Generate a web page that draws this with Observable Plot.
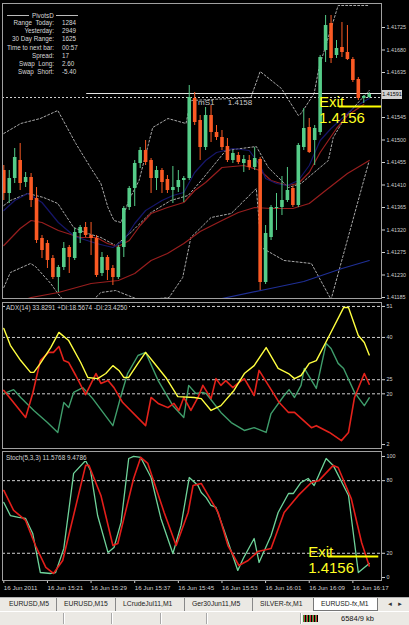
<!DOCTYPE html>
<html><head><meta charset="utf-8">
<script src="https://cdn.jsdelivr.net/npm/d3@7"></script>
<script src="https://cdn.jsdelivr.net/npm/@observablehq/plot@0.6"></script>
<style>
html,body{margin:0;padding:0;background:#000;}
#root{position:relative;width:409px;height:625px;background:#000;overflow:hidden;font-family:"Liberation Sans",Arial,sans-serif;}
#root svg{position:absolute;left:0;}
</style></head><body><div id="root"></div><script>
// ---------------- DATA ----------------
// EURUSD-fx M1 candles, bar 0 = 15:13 ... bar 67 = 16:20
const opens  = [1.41439,1.41393,1.41423,1.41459,1.41415,1.41425,1.41383,1.41303,1.41293,1.41263,
                1.41225,1.41245,1.41285,1.41263,1.41313,1.41325,1.41309,1.41303,1.41233,1.41265,
                1.41243,1.41225,1.41285,1.41365,1.41403,1.41453,1.41479,1.41459,1.41423,1.41439,
                1.41421,1.41399,1.41405,1.41419,1.41423,1.41583,1.41539,1.41485,1.41549,1.41515,
                1.41505,1.41487,1.41459,1.41469,1.41453,1.41459,1.41445,1.41461,1.41215,1.41305,
                1.41363,1.41365,1.41379,1.41403,1.41369,1.41485,1.41525,1.41499,1.41515,1.41679,
                1.41733,1.41669,1.41685,1.41675,1.41661,1.41621,1.41583,1.41585];
const highs  = [1.41449,1.41439,1.41483,1.41493,1.41435,1.41433,1.41405,1.41309,1.41299,1.41269,
                1.41249,1.41295,1.41289,1.41323,1.41329,1.41335,1.41335,1.41309,1.41275,1.41269,
                1.41249,1.41289,1.41367,1.41407,1.41459,1.41485,1.41499,1.41463,1.41447,1.41443,
                1.41429,1.41447,1.41439,1.41427,1.41609,1.41595,1.41549,1.41565,1.41569,1.41529,
                1.41519,1.41503,1.41479,1.41475,1.41469,1.41469,1.41485,1.41465,1.41329,1.41369,
                1.41393,1.41427,1.41445,1.41407,1.41493,1.41563,1.41543,1.41529,1.41669,1.41749,
                1.41749,1.41699,1.41735,1.41729,1.41665,1.41625,1.41589,1.41595];
const lows   = [1.41379,1.41373,1.41413,1.41399,1.41405,1.41365,1.41293,1.41263,1.41243,1.41221,
                1.41195,1.41239,1.41233,1.41259,1.41293,1.41305,1.41269,1.41225,1.41227,1.41219,
                1.41209,1.41221,1.41265,1.41359,1.41367,1.41443,1.41449,1.41393,1.41399,1.41393,
                1.41393,1.41373,1.41395,1.41375,1.41419,1.41529,1.41459,1.41479,1.41495,1.41499,
                1.41479,1.41455,1.41453,1.41451,1.41435,1.41439,1.41439,1.41199,1.41211,1.41299,
                1.41319,1.41349,1.41375,1.41365,1.41365,1.41479,1.41473,1.41449,1.41509,1.41655,
                1.41653,1.41663,1.41665,1.41659,1.41615,1.41579,1.41573,1.41583];
const closes = [1.41393,1.41423,1.41465,1.41413,1.41425,1.41379,1.41299,1.41279,1.41259,1.41225,
                1.41245,1.41283,1.41265,1.41315,1.41325,1.41309,1.41303,1.41229,1.41265,1.41239,
                1.41225,1.41285,1.41363,1.41403,1.41453,1.41479,1.41455,1.41423,1.41439,1.41415,
                1.41399,1.41405,1.41419,1.41423,1.41585,1.41535,1.41485,1.41549,1.41515,1.41505,
                1.41485,1.41459,1.41473,1.41455,1.41461,1.41445,1.41463,1.41215,1.41313,1.41365,
                1.41365,1.41379,1.41399,1.41369,1.41489,1.41523,1.41475,1.41523,1.41665,1.41729,
                1.41663,1.41683,1.41675,1.41661,1.41619,1.41583,1.41587,1.41591];

// overlay lines on price pane: [bar, price]
const upperBand = [[0,1.41513],[3.1,1.41533],[6.7,1.41543],[9.9,1.41559],[13.2,1.41493],[15.9,1.41445],[17.8,1.41413],[19.1,1.41365],[20.2,1.41339],[21.5,1.41335],[22.9,1.41379],[24.8,1.41419],[27.3,1.41525],[30.1,1.41543],[33.4,1.41533],[34.3,1.41579],[45.3,1.41585],[47,1.41637],[50.9,1.41603],[54,1.41549],[54.5,1.41553],[56.9,1.41593],[57.8,1.41645],[61.3,1.41769],[66.9,1.41769]];
const middleBand = [[0,1.41369],[1.2,1.41379],[4.4,1.41393],[7.3,1.41385],[9.9,1.41373],[12.8,1.41325],[15.4,1.41313],[17.8,1.41305],[20.5,1.41289],[23.3,1.41315],[27,1.41355],[30.6,1.41379],[33.8,1.41389],[36.2,1.41419],[40.7,1.41479],[46.3,1.41487],[48.5,1.41445],[52.2,1.41405],[54.5,1.41413],[59.5,1.41459],[60.4,1.41505],[62.8,1.41549],[67,1.41599]];
const lowerBand = [[0,1.41205],[1.2,1.41235],[4.9,1.41253],[5.8,1.41247],[8.6,1.41213],[9.9,1.41193],[11.3,1.41175],[15.9,1.41175],[17.8,1.41195],[20.5,1.41199],[25.1,1.41179],[30.3,1.41185],[32.8,1.41225],[34.3,1.41305],[38,1.41345],[41.7,1.41353],[46.3,1.41403],[47.2,1.41285],[51.4,1.41259],[56.4,1.41253],[60,1.41181],[66.9,1.41455]];
const blueFast = [[0,1.41359],[2,1.41379],[4.4,1.41393],[7,1.41375],[10,1.41335],[13,1.41307],[17,1.41293],[20,1.41285],[22,1.41299],[24,1.41333],[26,1.41359],[29,1.41379],[31,1.41389],[33,1.41395],[35,1.41435],[37,1.41459],[39,1.41475],[42,1.41483],[45,1.41479],[47,1.41449],[48,1.41423],[50,1.41413],[52,1.41409],[54,1.41419],[56,1.41449],[58,1.41499],[60,1.41523],[62,1.41543],[64,1.41563],[66,1.41577],[67,1.41583]];
const redFast = [[0,1.41289],[3,1.41323],[5,1.41339],[7,1.41335],[10,1.41319],[14,1.41305],[17,1.41305],[19,1.41293],[21,1.41287],[23,1.41299],[25,1.41329],[27,1.41353],[30,1.41365],[33,1.41375],[35,1.41399],[37,1.41415],[40,1.41445],[44,1.41449],[47,1.41439],[49,1.41419],[52,1.41409],[54,1.41413],[56,1.41435],[58,1.41475],[61,1.41523],[63,1.41549],[66,1.41571]];
const redSlow = [[4,1.41181],[5,1.41185],[10,1.41195],[16,1.41213],[21,1.41219],[24,1.41233],[27,1.41259],[30,1.41273],[33,1.41293],[36,1.41317],[40,1.41339],[43,1.41355],[46,1.41365],[49,1.41363],[53,1.41363],[56,1.41373],[59,1.41399],[63,1.41433],[67,1.41459]];
const blueSlow = [[38,1.41179],[40,1.41183],[48,1.41201],[55,1.41217],[62,1.41243],[67,1.41259]];

const priceTicks = [1.41725,1.41680,1.41635,1.41545,1.41500,1.41455,1.41410,1.41365,1.41320,1.41275,1.41230,1.41185];
const currentPrice = 1.41591;
const pivotS1 = {price: 1.41585, labelBar: 35.6, labelPrice: 1.41575, text: "mS1\u00a0\u00a0\u00a0\u00a0\u00a0\u00a01.4158"};
const whiteLevel = {price: 1.41593, fromBar: 15.2};
const exitMain = {bar: 57.8, price: 1.41589, text: "Exit\n1.4156", linePrice: 1.41567, lineFrom: 61.5};

// ADX(14) pane: [bar, value]
const adxLine = [[0,43.2],[1.2,37.2],[3.1,31.8],[4.9,27.6],[5.5,27.6],[6.7,30.8],[8.6,36.4],[10.1,41.8],[11.9,38.9],[14.1,31.1],[15.4,25.8],[17.2,25.4],[18.7,27.2],[20,30],[21.1,28.3],[22,25.8],[22.9,25.8],[24.6,30.8],[26,34.7],[27.5,31.1],[29.7,25.8],[31.9,19],[34.9,18.7],[36.2,18.3],[38,14.1],[39.8,15.8],[42.2,21.2],[44.1,27.2],[45.9,30],[48.1,36.4],[50.3,29],[52.2,27.2],[53.3,25.4],[54.5,26.5],[56,30.8],[57.3,31.8],[59.5,40],[62.3,50.6],[63.2,50.6],[65,40.7],[66.1,38.2],[67,33.8]];
const diPlus = [[0,20.1],[1.8,21.5],[3.1,18.7],[5.5,14.1],[8,9.8],[9.9,6.3],[11,16.9],[11.9,15.1],[12.8,20.5],[14.5,22.2],[16.3,18.3],[20,8.7],[21.5,19.4],[22.7,27.2],[24.6,33.6],[26,34.7],[28.3,24.7],[31,15.8],[33,11.6],[33.9,23],[35.2,20.1],[36.5,20.5],[37.1,20.1],[39.8,13.4],[41.7,9.8],[44.1,7],[45.9,8],[48.1,6.3],[49,13],[51.4,19.4],[52.3,21.5],[53.3,18.7],[54.5,23],[55.1,29],[57.3,21.9],[59.1,37.9],[60,36.1],[61.3,30.8],[62.3,29],[64.3,20.5],[66.1,15.8],[67,18.6]];
const diMinus = [[0,21.2],[1.2,18.3],[4,11.6],[5.3,20.1],[6.7,31.8],[8.2,34.7],[9.1,34.7],[10.1,36.8],[11,31.8],[11.9,31.1],[13.2,26.5],[15,19.7],[16.9,27.2],[17.8,23.7],[19.1,24.7],[20.2,22.2],[21.8,16.9],[26,8.7],[27,18.7],[28.3,16.6],[30.1,15.1],[31.2,16.6],[32.1,14.1],[33,18.7],[34.3,14.1],[35.6,18.7],[36.5,23],[38,18.3],[38.9,25.4],[39.8,23],[40.7,24.7],[42,22.2],[42.9,23.7],[44.1,25.4],[45.9,19.4],[46.8,28.3],[50.5,16.9],[52.2,13.4],[53.3,13.4],[56.4,8],[57.3,8.7],[59.7,6.3],[61.9,3.4],[63.2,6.3],[64.3,18.7],[66.1,27.2],[67,23.4]];
const adxTicks = [51,40,25,20,2];
const adxLevels = [51,40,25,20];
const adxLabel = "ADX(14) 33.8291 +DI:18.5674 -DI:23.4250";

// Stochastic(5,3,3) pane: [bar, value]
const stochK = [[0,62],[1.2,51.2],[2.7,49.6],[4,48.8],[5.3,36.4],[6.7,4.1],[8.6,3.3],[9.5,4.1],[11,24],[12.8,86],[15,96.7],[15.9,88.4],[17.2,51.2],[19.1,20.7],[20.2,24.8],[21.5,45.5],[22.9,98.3],[23.8,100],[25.1,99.2],[27,82.6],[28.8,48.8],[31,19.8],[32.5,43],[34,82.6],[35.6,76],[36.2,70.2],[37.1,66],[38,59.5],[38.9,57.9],[40.4,38.8],[42.9,5.8],[43.9,15.7],[45.9,32.2],[46.8,12.4],[49,34.7],[50.3,53.7],[52.2,69.4],[53.1,69.4],[54.5,78.5],[55.8,81.8],[56.9,76],[59.1,98.3],[60.4,92.6],[63.2,67.8],[64.3,28.9],[65,4.1],[67,11.6]];
const stochD = [[0,71.9],[1.8,55.4],[4,47.1],[5.8,26.4],[7.7,8.3],[9.1,3.3],[10.8,14],[15,92.6],[15.6,92.6],[17.8,67.8],[20,26.4],[20.9,28.1],[23.8,81.8],[25.1,99.2],[26.4,94.2],[29.4,53.7],[31.6,26.4],[33.8,53.7],[34.7,76],[36.2,77.7],[39.3,53.7],[41.1,26.4],[43.1,9.9],[44.8,14],[46.6,21.5],[49,24],[51.4,53.7],[54,67.8],[56.4,78.5],[57.8,80.2],[60.4,92.6],[61.3,90.9],[63.7,65.3],[65.6,28.9],[67,9.5]];
const stochTicks = [100,80,20,0];
const stochLevels = [80,20];
const stochLabel = "Stoch(5,3,3) 11.5768 9.4786";
const exitStoch = {bar: 55.8, value: 26.4, text: "Exit\n1.4156", lineValue: 17.3, lineFrom: 59.5};

// time axis
const timeTickBars = [0,8,16,24,32,40,48,56,64];
const timeTickLabels = ["16 Jun 2011","16 Jun 15:21","16 Jun 15:29","16 Jun 15:37","16 Jun 15:45","16 Jun 15:53","16 Jun 16:01","16 Jun 16:09","16 Jun 16:17"];

// PivotsD info box
const pivotRowLabels = ["Range  Today:","Yesterday:","30 Day Range:","Time to next bar:","Spread:","Swap  Long:","Swap  Short:"];
const pivotRowValues = ["1284","2949","1625","00:57","17","2.60","-5.40"];

// terminal tabs / status
const tabNames = ["EURUSD,M5","EURUSD,M15","LCrudeJul11,M1","Ger30Jun11,M5","SILVER-fx,M1","EURUSD-fx,M1"];
const statusText = "6584/9 kb";

// ---------------- STYLE / LAYOUT ----------------
const FONT = '"Liberation Sans", Arial, sans-serif';
const UP = "#55cc88", DOWN = "#fb5a24";
const X_DOMAIN = [-0.24, 69.25];
const PANES = {main: {top: 3, h: 295}, adx: {top: 302, h: 146}, stoch: {top: 451, h: 145}};
const base = {
  width: 409, marginLeft: 2, marginRight: 28,
  x: {domain: X_DOMAIN, axis: null},
  style: `background:transparent;color:#d0d0d0;font-family:${FONT};overflow:visible;`
};
const px = d => d[0], py = d => d[1];
const frame = () => Plot.frame({stroke: "#a0a0a0"});
const rightAxis = (ticks, fmt) => Plot.axisY(ticks, {anchor: "right", tickSize: 3, tickPadding: 2, tickFormat: fmt, fontSize: 5.4, color: "#d0d0d0", label: null});

const bars = d3.range(opens.length).map(i => ({i, o: opens[i], h: highs[i], l: lows[i], c: closes[i], up: closes[i] >= opens[i]}));
const root = document.getElementById("root");

// ---- price pane ----
const main = Plot.plot({
  ...base, height: PANES.main.h, marginTop: 0, marginBottom: 0,
  y: {domain: [1.41183, 1.41773], axis: null},
  marks: [
    Plot.line(upperBand, {x: px, y: py, stroke: "#a8a8a8", strokeWidth: 1, strokeDasharray: "2,2", clip: true}),
    Plot.line(middleBand, {x: px, y: py, stroke: "#a8a8a8", strokeWidth: 1, strokeDasharray: "2,2", clip: true}),
    Plot.line(lowerBand, {x: px, y: py, stroke: "#a8a8a8", strokeWidth: 1, strokeDasharray: "2,2", clip: true}),
    Plot.line(blueSlow, {x: px, y: py, stroke: "#1f2f96", strokeWidth: 1.2, clip: true}),
    Plot.line(redSlow, {x: px, y: py, stroke: "#981e1e", strokeWidth: 1.2, clip: true}),
    Plot.line(redFast, {x: px, y: py, stroke: "#981e1e", strokeWidth: 1.2, clip: true}),
    Plot.line(blueFast, {x: px, y: py, stroke: "#16166a", strokeWidth: 1.2, clip: true}),
    Plot.ruleY([pivotS1], {y: "price", stroke: "#d0d0d0", strokeDasharray: "2,2"}),
    Plot.ruleY([{y: whiteLevel.price, x1: whiteLevel.fromBar, x2: X_DOMAIN[1]}], {y: "y", x1: "x1", x2: "x2", stroke: "#e4e4e4"}),
    Plot.ruleX(bars, {x: "i", y1: "l", y2: "h", stroke: d => d.up ? UP : DOWN, strokeWidth: 1}),
    Plot.ruleX(bars, {x: "i", y1: "o", y2: "c", stroke: d => d.up ? UP : DOWN, strokeWidth: 3.6}),
    Plot.text([pivotS1], {x: "labelBar", y: "labelPrice", text: "text", textAnchor: "start", fontSize: 8, fill: "#c8c8c8"}),
    Plot.ruleY([{y: exitMain.linePrice, x1: exitMain.lineFrom, x2: X_DOMAIN[1]}], {y: "y", x1: "x1", x2: "x2", stroke: "#ffff00", strokeWidth: 2}),
    Plot.text([exitMain], {x: "bar", y: "price", text: "text", textAnchor: "start", lineAnchor: "top", fontSize: 15, lineHeight: 1.07, fill: "#ffff22"}),
    rightAxis(priceTicks, d => d.toFixed(5)),
    frame()
  ]
});
main.style.top = PANES.main.top + "px";
root.appendChild(main);

// ---- ADX pane ----
const adx = Plot.plot({
  ...base, height: PANES.adx.h, marginTop: 0, marginBottom: 0,
  y: {domain: [0.6, 52.4], axis: null},
  marks: [
    Plot.ruleY(adxLevels, {stroke: "#d0d0d0", strokeDasharray: "3,2"}),
    Plot.line(diPlus, {x: px, y: py, stroke: "#3f9d6b", strokeWidth: 1.4}),
    Plot.line(diMinus, {x: px, y: py, stroke: "#e3221b", strokeWidth: 1.6}),
    Plot.line(adxLine, {x: px, y: py, stroke: "#ffff40", strokeWidth: 1.4}),
    rightAxis(adxTicks, d => String(d)),
    frame()
  ]
});
adx.style.top = PANES.adx.top + "px";
root.appendChild(adx);

// ---- Stochastic pane ----
const stoch = Plot.plot({
  ...base, height: PANES.stoch.h, marginTop: 0, marginBottom: 16,
  y: {domain: [-2.5, 104.1], axis: null},
  marks: [
    Plot.ruleY(stochLevels, {stroke: "#d0d0d0", strokeDasharray: "3,2"}),
    Plot.line(stochK, {x: px, y: py, stroke: "#6fd39a", strokeWidth: 1.3}),
    Plot.line(stochD, {x: px, y: py, stroke: "#e31e1a", strokeWidth: 1.6}),
    Plot.ruleY([{y: exitStoch.lineValue, x1: exitStoch.lineFrom, x2: X_DOMAIN[1] - 0.5}], {y: "y", x1: "x1", x2: "x2", stroke: "#ffff00", strokeWidth: 2}),
    Plot.text([exitStoch], {x: "bar", y: "value", text: "text", textAnchor: "start", lineAnchor: "top", fontSize: 15, lineHeight: 1.07, fill: "#ffff22"}),
    rightAxis(stochTicks, d => String(d)),
    Plot.axisX(timeTickBars, {anchor: "bottom", tickSize: 3, tickPadding: 2, textAnchor: "start", fontSize: 6.2, color: "#d0d0d0", label: null,
      tickFormat: d => timeTickLabels[timeTickBars.indexOf(d)]}),
    frame()
  ]
});
stoch.style.top = PANES.stoch.top + "px";
root.appendChild(stoch);

// ---- HTML overlays ----
function addDiv(css, text) {
  const d = document.createElement("div");
  d.style.cssText = css;
  if (text !== undefined) d.textContent = text;
  root.appendChild(d);
  return d;
}
// current price box on the right axis
const cy = PANES.main.top + main.scale("y").apply(currentPrice);
addDiv(`position:absolute;left:382px;top:${cy - 4.5}px;width:20px;height:9px;background:#d2d2d2;color:#000;font-size:5.4px;line-height:9px;text-align:center;`, currentPrice.toFixed(5));

// indicator labels
addDiv("position:absolute;left:6px;top:304px;font-size:6.4px;color:#d4d4d4;background:#000;white-space:pre;padding-right:2px;", adxLabel);
addDiv("position:absolute;left:6px;top:454px;font-size:6.4px;color:#d4d4d4;background:#000;white-space:pre;padding-right:2px;", stochLabel);

// PivotsD box
const pv = addDiv("position:absolute;left:6px;top:11px;font-size:6.3px;color:#d8d8d8;");
pv.innerHTML = `<div style="display:flex;align-items:center;height:8px;"><span style="display:inline-block;width:22px;border-top:1px solid #bbb;margin:0 3px 0 1px"></span>PivotsD<span style="display:inline-block;width:22px;border-top:1px solid #bbb;margin-left:2px"></span></div>`;
pivotRowLabels.forEach((lab, k) => {
  const r = document.createElement("div");
  r.style.cssText = "display:flex;height:8.2px;line-height:8.2px;white-space:pre;";
  r.innerHTML = `<span style="width:48px;text-align:right;display:inline-block">${lab}</span><span style="display:inline-block;margin-left:8px">${pivotRowValues[k]}</span>`;
  pv.appendChild(r);
});

// tabs bar
const tabWidths = [55, 59, 69, 68, 60, 65];
const tabs = addDiv("position:absolute;left:0;top:597px;width:409px;height:14px;background:#ebe9e4;border-top:1px solid #b0b0b0;box-sizing:border-box;display:flex;font-size:6.8px;color:#222;");
tabs.appendChild(Object.assign(document.createElement("div"), {style: "width:2px"}));
tabNames.forEach((n, k) => {
  const t = document.createElement("div");
  const active = k === tabNames.length - 1;
  t.style.cssText = `width:${tabWidths[k]}px;box-sizing:border-box;padding-left:7px;line-height:12px;white-space:nowrap;overflow:hidden;` +
    (active ? "background:#fff;border:1px solid #777;border-top:none;line-height:11px;" : (k < tabNames.length - 2 ? "border-right:1px solid #888;" : ""));
  t.textContent = n;
  tabs.appendChild(t);
});
const arrows = document.createElement("div");
arrows.style.cssText = "margin-left:9px;font-size:6px;line-height:12px;color:#333;letter-spacing:4px;";
arrows.textContent = "◄►";
tabs.appendChild(arrows);

// status bar
const status = addDiv("position:absolute;left:0;top:611px;width:409px;height:14px;background:#ebe9e4;border-top:1px solid #fff;box-sizing:border-box;font-size:7.5px;color:#111;");
[63, 111, 160, 206, 300].forEach(x => {
  const s = document.createElement("div");
  s.style.cssText = `position:absolute;left:${x}px;top:1px;width:1px;height:11px;background:#a8a8a8;border-right:1px solid #fff;`;
  status.appendChild(s);
});
const icon = document.createElement("div");
icon.style.cssText = "position:absolute;left:303px;top:3px;width:15px;height:7px;background:repeating-linear-gradient(90deg,#3a9a3a 0 1px,#c33 1px 2px,#000 2px 3px);";
status.appendChild(icon);
const st = document.createElement("div");
st.style.cssText = "position:absolute;left:341px;top:2px;line-height:10px;";
st.textContent = statusText;
status.appendChild(st);
</script></body></html>
